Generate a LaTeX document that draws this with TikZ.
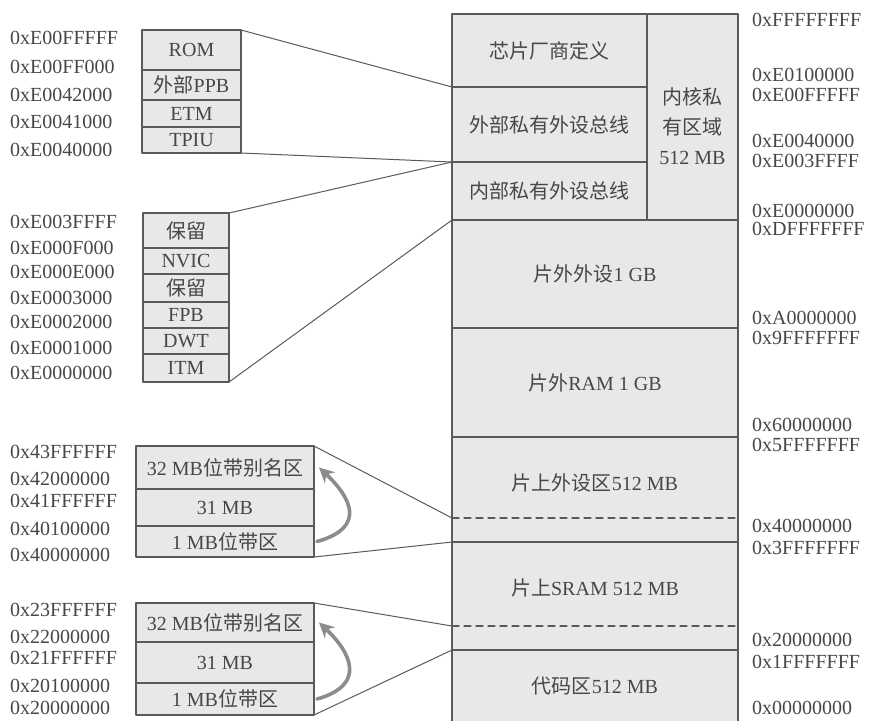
\documentclass[tikz,border=0pt]{standalone}
\usepackage{fontspec}
\setmainfont{Liberation Serif}
\newfontfamily\cjk{Noto Sans CJK SC}
\usetikzlibrary{arrows.meta,positioning}

\definecolor{linec}{HTML}{5A5A5A}
\definecolor{cellc}{HTML}{E8E8E8}
\definecolor{txtc}{HTML}{474747}
\definecolor{arrowc}{HTML}{8C8C8C}

\tikzset{
  cell/.style={draw=linec, fill=cellc, line width=1.1pt, inner sep=0pt, outer sep=0pt,
    text=txtc, font=\fontsize{20}{24}\selectfont, align=center},
  celltext/.style={inner sep=0pt, text=txtc, font=\fontsize{20}{24}\selectfont, align=center},
  addr/.style={anchor=west, inner sep=0pt, text=txtc, font=\fontsize{20}{24}\selectfont},
  zoomline/.style={draw=linec, line width=1pt},
  bandarrow/.style={draw=arrowc, line width=3.6pt, -{Stealth[length=15pt,width=15pt,inset=5pt]}},
}

\begin{document}
\begin{tikzpicture}[x=1pt,y=-1pt,line cap=round,line join=round]
  \useasboundingbox (0,0) rectangle (869,720);
  \fill[white] (0,0) rectangle (869,720);
  % memory map
  \node[cell, anchor=north west, minimum width=195pt, minimum height=73pt] (vendor) at (452,14) {{\cjk 芯片厂商定义}};
  \node[cell, below=0pt of vendor, minimum width=195pt, minimum height=75pt] (extppb) {{\cjk 外部私有外设总线}};
  \node[cell, below=0pt of extppb, minimum width=195pt, minimum height=58pt] (intppb) {{\cjk 内部私有外设总线}};
  \node[cell, anchor=north west, minimum width=91pt, minimum height=206pt] (core) at (vendor.north east) {};
  \node[celltext, font=\fontsize{20}{30}\selectfont] (coretxt) at ([yshift=-9pt]core.center) {{\cjk 内核私}\\{\cjk 有区域}\\512 MB};
  \node[cell, anchor=north west, minimum width=286pt, minimum height=108pt] (extdev) at (intppb.south west) {{\cjk 片外外设}1 GB};
  \node[cell, below=0pt of extdev, minimum width=286pt, minimum height=109pt] (extram) {{\cjk 片外}RAM 1 GB};
  \node[cell, below=0pt of extram, minimum width=286pt, minimum height=105pt] (periph) {};
  \node[celltext] (periphtxt) at ([yshift=7pt]periph.center) {{\cjk 片上外设区}512 MB};
  \node[cell, below=0pt of periph, minimum width=286pt, minimum height=108pt] (sram) {};
  \node[celltext] (sramtxt) at ([yshift=8pt]sram.center) {{\cjk 片上}SRAM 512 MB};
  \node[cell, below=0pt of sram, minimum width=286pt, minimum height=72pt] (code) {{\cjk 代码区}512 MB};
  \coordinate (pdashw) at (452,518);
  \coordinate (pdashe) at (738,518);
  \coordinate (sdashw) at (452,626);
  \coordinate (sdashe) at (738,626);
  \draw[draw=linec, line width=1.1pt, dash pattern=on 7pt off 5pt] (pdashw) -- (pdashe);
  \draw[draw=linec, line width=1.1pt, dash pattern=on 7pt off 5pt] (sdashw) -- (sdashe);

  % external PPB
  \node[cell, anchor=north west, minimum width=99pt, minimum height=40pt] (rom) at (142,30) {ROM};
  \node[cell, below=0pt of rom, minimum width=99pt, minimum height=30pt] (extppbs) {{\cjk 外部}PPB};
  \node[cell, below=0pt of extppbs, minimum width=99pt, minimum height=27pt] (etm) {ETM};
  \node[cell, below=0pt of etm, minimum width=99pt, minimum height=26pt] (tpiu) {TPIU};

  % internal PPB
  \node[cell, anchor=north west, minimum width=86pt, minimum height=35pt] (resa) at (143,213) {{\cjk 保留}};
  \node[cell, below=0pt of resa, minimum width=86pt, minimum height=26pt] (nvic) {NVIC};
  \node[cell, below=0pt of nvic, minimum width=86pt, minimum height=28pt] (resb) {{\cjk 保留}};
  \node[cell, below=0pt of resb, minimum width=86pt, minimum height=26pt] (fpb) {FPB};
  \node[cell, below=0pt of fpb, minimum width=86pt, minimum height=26pt] (dwt) {DWT};
  \node[cell, below=0pt of dwt, minimum width=86pt, minimum height=28pt] (itm) {ITM};

  % bit-band, peripherals
  \node[cell, anchor=north west, minimum width=178pt, minimum height=43pt] (aliasp) at (136,446) {32 MB{\cjk 位带别名区}};
  \node[cell, below=0pt of aliasp, minimum width=178pt, minimum height=37pt] (midp) {31 MB};
  \node[cell, below=0pt of midp, minimum width=178pt, minimum height=31pt] (bandp) {1 MB{\cjk 位带区}};

  % bit-band, SRAM
  \node[cell, anchor=north west, minimum width=178pt, minimum height=39pt] (aliass) at (136,603) {32 MB{\cjk 位带别名区}};
  \node[cell, below=0pt of aliass, minimum width=178pt, minimum height=41pt] (mids) {31 MB};
  \node[cell, below=0pt of mids, minimum width=178pt, minimum height=32pt] (bands) {1 MB{\cjk 位带区}};

  % zoom lines
  \draw[zoomline] (rom.north east) -- (extppb.north west);
  \draw[zoomline] (tpiu.south east) -- (extppb.south west);
  \draw[zoomline] (resa.north east) -- (intppb.north west);
  \draw[zoomline] (itm.south east) -- (intppb.south west);
  \draw[zoomline] (aliasp.north east) -- (pdashw);
  \draw[zoomline] (bandp.south east) -- (periph.south west);
  \draw[zoomline] (aliass.north east) -- (sdashw);
  \draw[zoomline] (bands.south east) -- (sram.south west);

  % bit-band arrows
  \draw[bandarrow] ([xshift=3pt]bandp.east) .. controls +(50,-14) and +(32,30) .. ([xshift=5pt]aliasp.east);
  \draw[bandarrow] ([xshift=3pt]bands.east) .. controls +(50,-14) and +(32,30) .. ([xshift=5pt]aliass.east);

  % addresses, right
  \node[addr] (r1) at (752,20) {0xFFFFFFFF};
  \node[addr] (r2) at (752,75) {0xE0100000};
  \node[addr] (r3) at (752,95) {0xE00FFFFF};
  \node[addr] (r4) at (752,141) {0xE0040000};
  \node[addr] (r5) at (752,161) {0xE003FFFF};
  \node[addr] (r6) at (752,211) {0xE0000000};
  \node[addr] (r7) at (752,229) {0xDFFFFFFF};
  \node[addr] (r8) at (752,318) {0xA0000000};
  \node[addr] (r9) at (752,338) {0x9FFFFFFF};
  \node[addr] (r10) at (752,425) {0x60000000};
  \node[addr] (r11) at (752,445) {0x5FFFFFFF};
  \node[addr] (r12) at (752,526) {0x40000000};
  \node[addr] (r13) at (752,548) {0x3FFFFFFF};
  \node[addr] (r14) at (752,640) {0x20000000};
  \node[addr] (r15) at (752,662) {0x1FFFFFFF};
  \node[addr] (r16) at (752,708) {0x00000000};

  % addresses, external PPB
  \node[addr] (e1) at (10,38) {0xE00FFFFF};
  \node[addr] (e2) at (10,67) {0xE00FF000};
  \node[addr] (e3) at (10,95) {0xE0042000};
  \node[addr] (e4) at (10,122) {0xE0041000};
  \node[addr] (e5) at (10,150) {0xE0040000};

  % addresses, internal PPB
  \node[addr] (i1) at (10,222) {0xE003FFFF};
  \node[addr] (i2) at (10,248) {0xE000F000};
  \node[addr] (i3) at (10,272) {0xE000E000};
  \node[addr] (i4) at (10,298) {0xE0003000};
  \node[addr] (i5) at (10,322) {0xE0002000};
  \node[addr] (i6) at (10,348) {0xE0001000};
  \node[addr] (i7) at (10,373) {0xE0000000};

  % addresses, bit-band
  \node[addr] (p1) at (10,452) {0x43FFFFFF};
  \node[addr] (p2) at (10,479) {0x42000000};
  \node[addr] (p3) at (10,501) {0x41FFFFFF};
  \node[addr] (p4) at (10,529) {0x40100000};
  \node[addr] (p5) at (10,555) {0x40000000};
  \node[addr] (s1) at (10,610) {0x23FFFFFF};
  \node[addr] (s2) at (10,637) {0x22000000};
  \node[addr] (s3) at (10,658) {0x21FFFFFF};
  \node[addr] (s4) at (10,686) {0x20100000};
  \node[addr] (s5) at (10,708) {0x20000000};
\end{tikzpicture}
\end{document}
